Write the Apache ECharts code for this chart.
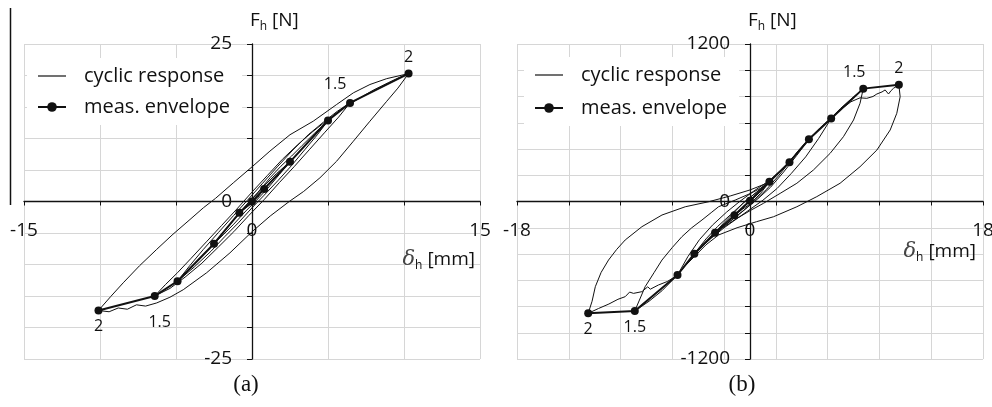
<!DOCTYPE html>
<html>
<head>
<meta charset="utf-8">
<script src="https://cdn.jsdelivr.net/npm/echarts@6/dist/echarts.min.js"></script>
<style>
  html, body { margin: 0; padding: 0; background: #fff; }
  #main { width: 992px; height: 407px; }
</style>
</head>
<body>
<div id="main"></div>
<script>
// panel (a): horizontal force [N] vs displacement [mm]
var envAx = [-10.1, -6.4, -4.9, -2.5, -0.83, 0, 0.8, 2.5, 5.0, 6.45, 10.3];
var envAy = [-17.3, -15.0, -12.65, -6.7, -1.8, 0, 2.0, 6.3, 12.85, 15.65, 20.3];
var envAlbl = ['2', '1.5', '', '', '', '', '', '', '', '1.5', '2'];

var cycAx = [0, 0.4, 0.8, 0.4, 0, -0.4, -0.83, -0.4, 0, 0.4,
  0.8, 1.6, 2.5, 1.8, 1.0, 0.3, -0.4, -1.2, -1.9, -2.5, -1.8, -1.0, -0.3, 0.4, 1.2, 1.9,
  2.6, 3.3, 4.1, 5.0, 4.3, 3.5, 2.6, 1.7, 0.8, 0, -0.9, -1.8, -2.7, -3.8, -4.9, -4.1, -3.2, -2.2, -1.2, -0.3, 0.7, 1.7, 2.7, 3.7,
  4.7, 5.6, 6.45, 5.7, 4.8, 3.8, 2.8, 1.8, 0.8, -0.2, -1.2, -2.2, -3.3, -4.4, -5.4, -6.4,
  -5.7, -4.9, -4.0, -3.0, -2.0, -1.0, 0, 1.0, 2.0, 3.0, 4.0, 5.0, 6.0, 7.0, 8.0, 9.0, 9.7, 10.3,
  9.6, 8.86, 7.76, 6.67, 5.57, 4.47, 3.4, 2.45, 1.2, 0, -1.45, -2.98, -4.52, -5.4, -6.27, -7.0, -7.6, -8.2, -8.8, -9.4, -10.1,
  -9.3, -8.47, -7.4, -6.27, -5.2, -4.08, -3.2, -2.4, -1.23, 0, 1.18, 2.5, 4.03, 5.57, 6.67, 7.76, 8.86, 10.3];
var cycAy = [0, 1.1, 2.0, 0.7, -0.3, -1.0, -1.8, -0.6, 0.4, 1.4,
  2.5, 4.4, 6.3, 4.3, 2.0, 0.2, -1.5, -3.6, -5.3, -6.7, -4.6, -2.4, -0.4, 1.5, 3.8, 5.6,
  7.2, 8.9, 10.8, 12.85, 10.6, 8.3, 5.7, 3.3, 1.0, -1.0, -3.4, -5.6, -7.9, -10.4, -12.65, -10.2, -7.6, -4.9, -2.2, 0.2, 2.9, 5.6, 8.2, 10.6,
  12.6, 14.3, 15.65, 13.4, 11.0, 8.3, 5.6, 3.0, 0.3, -2.2, -4.8, -7.2, -9.8, -12.0, -13.8, -15.0,
  -13.2, -11.3, -9.0, -6.4, -3.8, -1.2, 1.5, 4.1, 6.7, 9.0, 11.1, 13.0, 14.8, 16.3, 17.7, 18.9, 19.7, 20.3,
  18.0, 15.9, 12.75, 9.57, 6.4, 3.76, 1.6, 0, -2.3, -4.8, -8.15, -11.3, -14.0, -15.2, -16.1, -16.6, -16.4, -17.1, -16.9, -17.5, -17.3,
  -15.1, -12.9, -10.2, -7.6, -5.2, -2.86, -1.0, 0.5, 2.96, 5.5, 8.0, 10.6, 12.75, 15.4, 17.25, 18.57, 19.5, 20.3];

// panel (b)
var envBx = [-12.5, -8.9, -5.6, -4.3, -2.7, -1.2, 0, 1.5, 3.05, 4.55, 6.27, 8.75, 11.5];
var envBy = [-852, -834, -560, -398, -238, -105, 5, 150, 300, 474, 632, 860, 890];
var envBlbl = ['2', '1.5', '', '', '', '', '', '', '', '', '', '1.5', '2'];

var cycBx = [0, 0.75, 1.5, 0.8, 0, -0.6, -1.2, -0.6, 0, 0.75,
  1.5, 2.3, 3.05, 2.2, 1.3, 0.4, -0.5, -1.2, -2.0, -2.7, -2.0, -1.2, -0.4, 0.5, 1.5, 2.3,
  3.05, 3.8, 4.55, 3.6, 2.6, 1.6, 0.6, -0.4, -1.4, -2.4, -3.4, -4.3, -3.4, -2.5, -1.5, -0.5, 0.5, 1.5, 2.3, 3.1, 3.8, 4.6,
  5.4, 6.27, 5.3, 4.3, 3.2, 2.1, 1.0, 0, -1.0, -2.0, -3.0, -4.0, -4.8, -5.6, -4.8, -3.9, -2.9, -1.8, -0.8, 0.3, 1.5, 2.3, 3.1, 3.9, 4.6, 5.4, 6.3,
  7.0, 7.8, 8.75, 8.5, 8.0, 7.22, 6.19, 4.9, 3.62, 2.33, 1.04, 0, -1.2, -2.1, -2.8, -3.6, -4.4, -5.2, -5.9, -6.8, -7.8, -8.9,
  -8.1, -7.4, -6.8, -6.0, -5.26, -4.5, -3.71, -3.0, -2.43, -1.14, 0, 0.8, 1.5, 2.3, 3.05, 3.8, 4.55, 5.4, 6.27, 7.0, 7.8, 8.5,
  9.02, 9.5, 9.8, 10.2, 10.44, 10.7, 10.9, 11.08, 11.5,
  11.6, 11.34, 10.83, 9.8, 8.5, 6.96, 5.16, 3.62, 1.82, 0.5, -1.0, -2.43, -3.4, -4.3, -5.0, -5.78, -6.4, -7.07, -7.7, -7.9, -8.35, -9.0, -9.3, -9.64, -10.2, -10.9, -11.7, -12.5,
  -12.2, -11.95, -11.5, -10.93, -10.3, -9.64, -8.35, -6.8, -5.0, -3.2, -1.53, 0, 1.48];
var cycBy = [0, 70, 150, 60, -20, -60, -105, -45, 10, 80,
  155, 225, 300, 195, 95, 10, -70, -125, -185, -238, -160, -80, 0, 70, 150, 225,
  305, 390, 474, 350, 225, 110, 20, -60, -140, -220, -310, -398, -285, -190, -100, -10, 70, 155, 230, 310, 395, 480,
  555, 632, 480, 340, 215, 100, 10, -60, -130, -200, -280, -370, -460, -560, -420, -290, -180, -80, 0, 80, 160, 230, 310, 400, 480, 560, 640,
  710, 780, 860, 748, 621, 494, 367, 240, 139, 62, -14, -70, -140, -200, -260, -330, -420, -510, -590, -680, -760, -834,
  -649, -540, -446, -350, -268, -200, -141, -85, -40, 11, 60, 100, 155, 225, 305, 390, 478, 555, 635, 700, 760, 790,
  786, 800, 819, 835, 850, 819, 845, 862, 890,
  798, 672, 545, 392, 265, 139, 37, -40, -116, -154, -200, -255, -330, -420, -490, -573, -610, -636, -668, -650, -687, -700, -690, -725, -745, -781, -815, -852,
  -760, -649, -540, -446, -365, -293, -192, -103, -40, -2, 42, 88, 146];

var seriesNames = ['cyclic response', 'meas. envelope'];
var ticksA = [-15, 0, 15];
var ticksAy = [-25, 0, 25];
var ticksB = [-18, 0, 18];
var ticksBy = [-1200, 0, 1200];

var FONT = '"Open Sans", "DejaVu Sans", sans-serif';
var INK = '#111';
var GRIDC = '#d6d6d6';

// grid boxes in px (left, top, width, height)
var boxA = [24, 44, 456, 315];
var boxB = [517, 44, 466, 315];

var chart = echarts.init(document.getElementById('main'), null, { renderer: 'canvas' });

function pairs(xs, ys) {
  return xs.map(function (x, i) { return [x, ys[i]]; });
}

function envData(xs, ys, lbls, offsets) {
  var half = xs.length / 2;
  return xs.map(function (x, i) {
    var item = { value: [x, ys[i]] };
    if (lbls[i]) {
      item.label = {
        show: true,
        formatter: lbls[i],
        position: i < half ? 'bottom' : 'top',
        distance: 4,
        offset: offsets[i] || [0, 0]
      };
    }
    return item;
  });
}

function onlyTicks(list) {
  return function (v) { return list.indexOf(Math.round(v)) >= 0 ? String(Math.round(v)) : ''; };
}

// axes sit at the middle of each box (0 is the centre of both ranges)
function xAxisCfg(grid, box, min, max, step, labels, hideLine) {
  return {
    type: 'value', gridIndex: grid, min: min, max: max, interval: step,
    position: 'bottom', offset: -box[3] / 2,
    axisLine: { show: !hideLine, onZero: false, lineStyle: { color: INK, width: 1.3 } },
    axisTick: { show: !hideLine, length: 4, lineStyle: { color: INK } },
    splitLine: { show: !hideLine, lineStyle: { color: GRIDC, width: 1 } },
    axisLabel: labels ? { margin: 20, color: INK, fontSize: 19, fontFamily: FONT, formatter: onlyTicks(labels) } : { show: false }
  };
}

function yAxisCfg(grid, box, min, max, step, labels) {
  return {
    type: 'value', gridIndex: grid, min: min, max: max, interval: step,
    position: 'left', offset: -box[2] / 2,
    axisLine: { onZero: false, lineStyle: { color: INK, width: 1.3 } },
    axisTick: { show: true, length: 5, lineStyle: { color: INK } },
    splitLine: { show: true, lineStyle: { color: GRIDC, width: 1 } },
    axisLabel: { margin: 20, color: INK, fontSize: 19, fontFamily: FONT, formatter: onlyTicks(labels) }
  };
}

function legendCfg(left, top, gap) {
  return {
    left: left, top: top, orient: 'vertical', selectedMode: false,
    backgroundColor: '#fff', padding: [7, 12, 7, 10],
    itemWidth: 28, itemHeight: 12, itemGap: gap,
    textStyle: { fontSize: 20, fontFamily: FONT, color: INK, lineHeight: 22, padding: [0, 0, 0, 13] },
    data: [
      { name: seriesNames[0], itemStyle: { opacity: 0 }, lineStyle: { width: 1.2 } },
      { name: seriesNames[1] }
    ]
  };
}

function nameText(x, y, parts, align) {
  return {
    type: 'text', x: x, y: y, z: 100,
    style: {
      text: parts, align: align, verticalAlign: 'middle',
      rich: {
        m: { fontSize: 19, fontFamily: FONT, fill: INK, lineHeight: 24 },
        d: { fontSize: 21, fontFamily: '"DejaVu Serif", serif', fontStyle: 'italic', fill: '#444', lineHeight: 24 },
        s: { fontSize: 12, fontFamily: FONT, fill: INK, verticalAlign: 'bottom', lineHeight: 14 }
      }
    }
  };
}

var lineA = { color: INK, width: 1 };
var envLine = { color: INK, width: 2 };
var lblStyle = { color: INK, fontSize: 16, fontFamily: FONT };

function gridCfg(box) {
  return { left: box[0], top: box[1], width: box[2], height: box[3], containLabel: false, outerBoundsMode: 'none' };
}

var option = {
  backgroundColor: '#fff',
  animation: false,
  grid: [gridCfg(boxA), gridCfg(boxB)],
  xAxis: [
    xAxisCfg(0, boxA, -15, 15, 5, ticksA, false),
    xAxisCfg(1, boxB, -18, 18, 4, null, false),
    xAxisCfg(1, boxB, -18, 18, 18, ticksB, true)
  ],
  yAxis: [
    yAxisCfg(0, boxA, -25, 25, 5, ticksAy),
    yAxisCfg(1, boxB, -1200, 1200, 200, ticksBy)
  ],
  legend: [legendCfg(27, 58, 9), legendCfg(524, 57, 11)],
  series: [
    {
      name: seriesNames[0], type: 'line', xAxisIndex: 0, yAxisIndex: 0,
      symbol: 'none', lineStyle: lineA, itemStyle: { color: INK },
      data: pairs(cycAx, cycAy), z: 2
    },
    {
      name: seriesNames[1], type: 'line', xAxisIndex: 0, yAxisIndex: 0,
      symbol: 'circle', symbolSize: 8, lineStyle: envLine, itemStyle: { color: INK },
      label: lblStyle,
      data: envData(envAx, envAy, envAlbl, { 1: [5, 10], 9: [-15, -2] }), z: 3
    },
    {
      name: seriesNames[0], type: 'line', xAxisIndex: 1, yAxisIndex: 1,
      symbol: 'none', lineStyle: lineA, itemStyle: { color: INK },
      data: pairs(cycBx, cycBy), z: 2
    },
    {
      name: seriesNames[1], type: 'line', xAxisIndex: 1, yAxisIndex: 1,
      symbol: 'circle', symbolSize: 8, lineStyle: envLine, itemStyle: { color: INK },
      label: lblStyle,
      data: envData(envBx, envBy, envBlbl, { 11: [-9, 0] }), z: 3
    }
  ],
  graphic: [
    { type: 'line', shape: { x1: 10.5, y1: 8, x2: 10.5, y2: 205 }, style: { stroke: INK, lineWidth: 1.5 } },
    nameText(250, 21, '{m|F}{s|h}{m| [N]}', 'left'),
    nameText(748, 21, '{m|F}{s|h}{m| [N]}', 'left'),
    nameText(475, 260, '{d|δ}{s|h}{m| [mm]}', 'right'),
    nameText(976, 252, '{d|δ}{s|h}{m| [mm]}', 'right'),
    { type: 'text', x: 246, y: 385, style: { text: '(a)', font: '23px "Liberation Serif", serif', fill: INK, align: 'center', verticalAlign: 'middle' } },
    { type: 'text', x: 742, y: 385, style: { text: '(b)', font: '23px "Liberation Serif", serif', fill: INK, align: 'center', verticalAlign: 'middle' } }
  ]
};

chart.setOption(option);
</script>
</body>
</html>
